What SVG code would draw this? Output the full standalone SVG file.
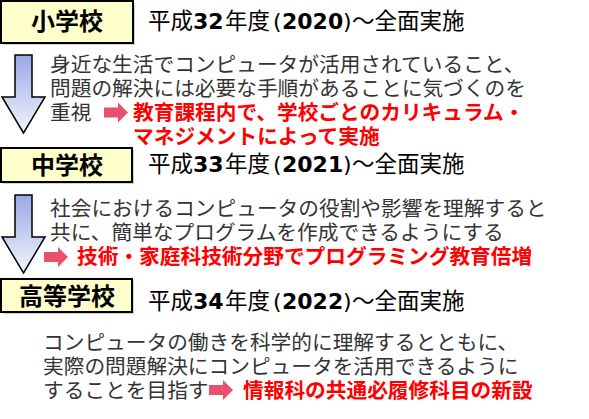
<svg xmlns="http://www.w3.org/2000/svg" width="589" height="419" viewBox="0 0 589 419">
<style>
.box{fill:#FFFFCC;stroke:#000;stroke-width:2}
.shadow{fill:#000;opacity:0.18}
.btxt{font-family:"Noto Sans CJK JP","Noto Sans",sans-serif;font-weight:bold;font-size:24px;fill:#000;text-anchor:middle}
.head{font-family:"Noto Sans CJK JP","Noto Sans",sans-serif;font-size:22.5px;fill:#000}
.num{font-family:"DejaVu Sans",sans-serif;font-weight:bold;font-size:22px}
.par{font-family:"DejaVu Sans",sans-serif;font-size:22px}
.body{font-family:"Noto Sans CJK JP","Noto Sans",sans-serif;font-size:20.7px;fill:#333}
.red{font-family:"Noto Sans CJK JP","Noto Sans",sans-serif;font-size:20.7px;font-weight:bold;fill:#FF0000}
.big{fill:url(#bluegrad);stroke:#000;stroke-width:1.5;stroke-linejoin:miter}
.pink{fill:#E8506E}
</style>
<defs>
<linearGradient id="bluegrad" x1="0" y1="0" x2="0" y2="1">
<stop offset="0" stop-color="#9AA8E6"/>
<stop offset="1" stop-color="#F2F4FC"/>
</linearGradient>
<path id="parrow" d="M0,-5 H14 V-10 L24,0 L14,10 V5 H0 Z"/>
</defs>

<g id="connectors">
<path class="big" d="M15,55 H32 V97 H45 L23.5,133 L2,97 H15 Z"/>
<path class="big" d="M15,195 H32 V237 H45 L23.5,273 L2,237 H15 Z"/>
<use href="#parrow" class="pink" x="104" y="112.5"/>
<use href="#parrow" class="pink" x="44" y="257"/>
<use href="#parrow" class="pink" x="209" y="390"/>
</g>

<g id="node-shogakko">
<rect class="shadow" x="3" y="3" width="132" height="42"/>
<rect class="box" x="1" y="1" width="132" height="42"/>
<text class="btxt" x="67" y="30">小学校</text>
<text class="head" y="29"><tspan x="148">平成</tspan><tspan class="num" x="193">32</tspan><tspan x="225">年度</tspan><tspan class="par" x="273">(</tspan><tspan class="num" x="282">2020</tspan><tspan class="par" x="343">)</tspan><tspan x="352">～全面実施</tspan></text>
<text class="body" x="50" y="72">身近な生活でコンピュータが活用されていること、</text>
<text class="body" x="50" y="96">問題の解決には必要な手順があることに気づくのを</text>
<text class="body" x="50" y="120">重視</text>
<text class="red" x="133" y="120">教育課程内で、学校ごとのカリキュラム・</text>
<text class="red" x="133" y="144">マネジメントによって実施</text>
</g>

<g id="node-chugakko">
<rect class="shadow" x="3" y="150" width="131" height="34"/>
<rect class="box" x="1" y="148" width="131" height="34"/>
<text class="btxt" x="67" y="173.5">中学校</text>
<text class="head" y="172"><tspan x="148">平成</tspan><tspan class="num" x="193">33</tspan><tspan x="225">年度</tspan><tspan class="par" x="273">(</tspan><tspan class="num" x="282">2021</tspan><tspan class="par" x="343">)</tspan><tspan x="352">～全面実施</tspan></text>
<text class="body" x="50" y="216">社会におけるコンピュータの役割や影響を理解すると</text>
<text class="body" x="50" y="240">共に、簡単なプログラムを作成できるようにする</text>
<text class="red" x="77" y="264">技術・家庭科技術分野でプログラミング教育倍増</text>
</g>

<g id="node-kotogakko">
<rect class="shadow" x="3" y="281" width="131" height="33"/>
<rect class="box" x="1" y="279" width="131" height="33"/>
<text class="btxt" x="67" y="304.5">高等学校</text>
<text class="head" y="309"><tspan x="148">平成</tspan><tspan class="num" x="193">34</tspan><tspan x="225">年度</tspan><tspan class="par" x="273">(</tspan><tspan class="num" x="282">2022</tspan><tspan class="par" x="343">)</tspan><tspan x="352">～全面実施</tspan></text>
<text class="body" x="43" y="350">コンピュータの働きを科学的に理解するとともに、</text>
<text class="body" x="43" y="374">実際の問題解決にコンピュータを活用できるように</text>
<text class="body" x="43" y="398">することを目指す</text>
<text class="red" x="243" y="398">情報科の共通必履修科目の新設</text>
</g>
</svg>
